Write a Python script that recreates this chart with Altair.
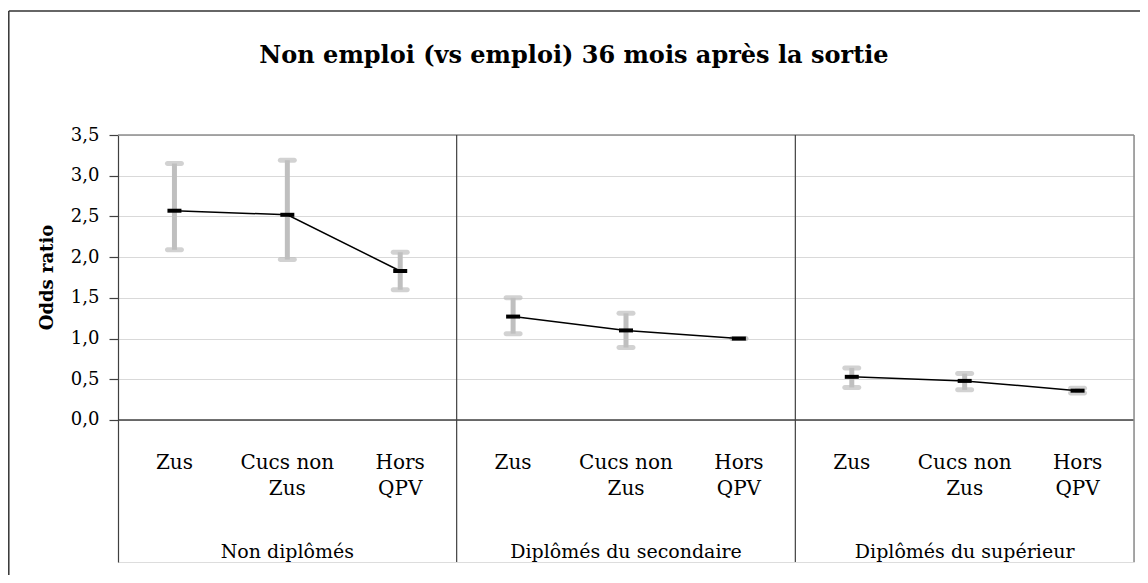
import altair as alt
import pandas as pd

# ---- data ----
groups = ["Non diplômés", "Diplômés du secondaire", "Diplômés du supérieur"]
zones = ["Zus", "Cucs non Zus", "Hors QPV"]
zone_labels = ["Zus", "Cucs non\nZus", "Hors\nQPV"]
odds = [2.57, 2.52, 1.83, 1.27, 1.10, 1.00, 0.53, 0.48, 0.36]
ci_low = [2.09, 1.97, 1.60, 1.06, 0.89, 1.00, 0.40, 0.37, 0.33]
ci_high = [3.15, 3.19, 2.06, 1.50, 1.31, 1.00, 0.64, 0.57, 0.39]
y_ticks = [0.0, 0.5, 1.0, 1.5, 2.0, 2.5, 3.0, 3.5]
title_text = "Non emploi (vs emploi) 36 mois après la sortie"
y_title = "Odds ratio"

rows = []
k = 0
for g in groups:
    for z, zl in zip(zones, zone_labels):
        rows.append(dict(group=g, zone=z, zone_label=zl, key=g + " | " + z,
                         rank=k, odds=odds[k], lo=ci_low[k], hi=ci_high[k]))
        k += 1
df = pd.DataFrame(rows)
keys = list(df["key"])

FONT = "DejaVu Serif"
W, H = 1016, 427
Y_MIN = -1.744  # leaves room below 0 for the category labels inside the frame

x_scale = alt.Scale(domain=keys, paddingInner=0, paddingOuter=0)
y_scale = alt.Scale(domain=[Y_MIN, 3.5], nice=False, zero=False)
y_axis = alt.Axis(
    values=y_ticks,
    labelExpr="replace(format(datum.value, '.1f'), '.', ',')",
    grid=True, gridColor="#d9d9d9", gridWidth=1,
    domainColor="#404040", domainWidth=1.2,
    tickColor="#404040", tickSize=9, tickWidth=1.2,
    labelFont=FONT, labelFontSize=18, labelColor="black", labelPadding=10,
    title=y_title, titleFont=FONT, titleFontSize=18, titleFontWeight="bold",
    titleColor="black", titlePadding=14, titleY=142,
)


def X(**kw):
    return alt.X("key:N", scale=x_scale, axis=None, **kw)


def Y(field):
    return alt.Y(field, type="quantitative", scale=y_scale, axis=y_axis)


base = alt.Chart(df)

bars = base.mark_rule(color="#bfbfbf", strokeWidth=5).encode(
    x=X(), y=Y("lo"), y2="hi")
cap_lo = base.mark_tick(orient="horizontal", color="#bfbfbf", size=19,
                        thickness=5, cornerRadius=2.5).encode(x=X(), y=Y("lo"))
cap_hi = base.mark_tick(orient="horizontal", color="#bfbfbf", size=19,
                        thickness=5, cornerRadius=2.5).encode(x=X(), y=Y("hi"))
line = base.mark_line(color="black", strokeWidth=1.5).encode(
    x=X(), y=Y("odds"), detail="group:N", order="rank:Q")
means = base.mark_tick(orient="horizontal", color="black", size=14,
                       thickness=4, opacity=1).encode(x=X(), y=Y("odds"))

one = pd.DataFrame({"v": [0.0]})
top = pd.DataFrame({"v": [3.5]})
x_axis_line = alt.Chart(one).mark_rule(color="#404040", strokeWidth=1.5).encode(
    y=Y("v"))
top_line = alt.Chart(top).mark_rule(color="#8c8c8c", strokeWidth=1.5).encode(
    y=Y("v"))

firsts = df[df["zone"] == zones[0]].iloc[1:]
lasts = df[df["zone"] == zones[-1]].iloc[-1:]
separators = alt.Chart(firsts).mark_rule(color="#404040", strokeWidth=1.2).encode(
    x=X(bandPosition=0))
right_edge = alt.Chart(lasts).mark_rule(color="#8c8c8c", strokeWidth=1.5).encode(
    x=X(bandPosition=1))

cat_labels = base.mark_text(font=FONT, fontSize=20, color="black",
                            lineBreak="\n", lineHeight=26,
                            baseline="alphabetic").encode(
    x=X(), y=alt.value(334), text="zone_label:N")

mids = df[df["zone"] == zones[1]]
group_labels = alt.Chart(mids).mark_text(font=FONT, fontSize=19, color="black",
                                         baseline="alphabetic").encode(
    x=X(), y=alt.value(423), text="group:N")

# outer chart border (left and top edges; the others run off the picture)
frame_left = alt.Chart(one).mark_rule(color="#333333", strokeWidth=1.5).encode(
    x=alt.value(-109.2), y=alt.value(-124), y2=alt.value(470))
frame_top = alt.Chart(one).mark_rule(color="#333333", strokeWidth=1.5).encode(
    x=alt.value(-109.2), x2=alt.value(1100), y=alt.value(-124))

chart = alt.layer(
    frame_left, frame_top, top_line, bars, cap_lo, cap_hi, line, means,
    x_axis_line, separators, right_edge, cat_labels, group_labels,
).properties(
    width=W, height=H,
    title=alt.TitleParams(title_text, font=FONT, fontSize=24, fontWeight="bold",
                          color="black", anchor="middle", dx=-52, offset=0,
                          dy=77, baseline="alphabetic"),
    autosize=alt.AutoSizeParams(type="none"),
    padding={"left": 110, "top": 127, "right": 6, "bottom": 13},
).configure_view(stroke=None).configure(background="white")

chart.save("out.html", embed_options={"renderer": "svg", "actions": False})
